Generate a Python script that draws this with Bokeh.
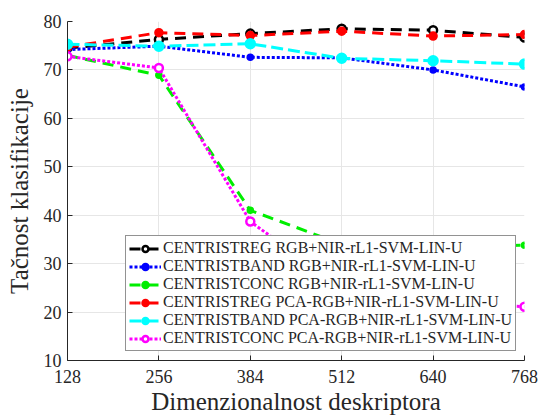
from bokeh.plotting import figure
from bokeh.models import Legend, LegendItem, FixedTicker
from bokeh.embed import file_html
from bokeh.resources import INLINE

x = [128, 256, 384, 512, 640, 768]
reg_rgb = [74.5, 76.3, 77.5, 78.5, 78.2, 76.7]
band_rgb = [74.2, 74.9, 72.6, 72.5, 70.0, 66.5]
conc_rgb = [73.0, 68.9, 41.0, 34.0, 33.6, 33.8]
reg_pca = [74.7, 77.7, 77.1, 78.0, 77.0, 77.3]
band_pca = [75.3, 74.9, 75.4, 72.4, 71.9, 71.2]
conc_pca = [72.8, 70.4, 38.7, 25.0, 22.0, 21.1]

labels = [
    "CENTRISTREG RGB+NIR-rL1-SVM-LIN-U",
    "CENTRISTBAND RGB+NIR-rL1-SVM-LIN-U",
    "CENTRISTCONC RGB+NIR-rL1-SVM-LIN-U",
    "CENTRISTREG PCA-RGB+NIR-rL1-SVM-LIN-U",
    "CENTRISTBAND PCA-RGB+NIR-rL1-SVM-LIN-U",
    "CENTRISTCONC PCA-RGB+NIR-rL1-SVM-LIN-U",
]
x_ticks = [128, 256, 384, 512, 640, 768]
y_ticks = [10, 20, 30, 40, 50, 60, 70, 80]

FONT = "Liberation Serif"

p = figure(width=538, height=417, output_backend="svg", toolbar_location=None,
           x_range=(128, 768), y_range=(10, 80),
           min_border_left=67, min_border_right=14, min_border_top=21, min_border_bottom=54)
p.outline_line_color = None
p.xaxis.ticker = FixedTicker(ticks=x_ticks)
p.yaxis.ticker = FixedTicker(ticks=y_ticks)
for ax in (p.xaxis[0], p.yaxis[0]):
    ax.major_tick_in = 5
    ax.major_tick_out = 0
    ax.minor_tick_in = 0
    ax.minor_tick_out = 0
    ax.axis_line_color = "#262626"
    ax.major_tick_line_color = "#262626"
    ax.major_label_text_font = FONT
    ax.major_label_text_font_size = "18px"
    ax.major_label_text_color = "#262626"
    ax.axis_label_text_font = FONT
    ax.axis_label_text_font_size = "25px"
    ax.axis_label_text_font_style = "normal"
    ax.axis_label_text_color = "#262626"
p.xaxis.axis_label = "Dimenzionalnost deskriptora"
p.yaxis.axis_label = "Tačnost klasifikacije"
p.xaxis.major_label_standoff = 9
p.xaxis.axis_label_standoff = 2
p.yaxis.major_label_standoff = 6
p.yaxis.axis_label_standoff = 8
p.grid.grid_line_color = "#e6e6e6"
p.grid.grid_line_width = 1

series = [
    (reg_rgb, "black", "dashed", "circle", 8, "white"),
    (band_rgb, "blue", "dotted", "circle", 5, "blue"),
    (conc_rgb, "#00ee00", "dashed", "circle", 5, "#00ee00"),
    (reg_pca, "red", "dashed", "circle", 7, "red"),
    (band_pca, "cyan", "dashdot", "circle", 9, "cyan"),
    (conc_pca, "magenta", "dotted", "circle", 8, "white"),
]
dash_map = {"dashed": "11 7", "dotted": "3 2", "dashdot": "12 5"}

items = []
for (ys, col, dash, marker, size, fill), lab in zip(series, labels):
    l = p.line(x, ys, line_color=col, line_width=3, line_dash=dash_map[dash])
    s = p.scatter(x, ys, marker=marker, size=size, line_color=col, fill_color=fill, line_width=2.5)
    items.append(LegendItem(label=lab, renderers=[l, s]))

legend = Legend(items=items, location=(58, 9), label_text_font=FONT,
                label_text_font_size="16px", label_text_color="#262626",
                border_line_color="#262626", border_line_width=1,
                background_fill_alpha=1, glyph_width=32, glyph_height=15,
                label_height=15, spacing=0, padding=3, margin=0,
                label_standoff=2)
p.add_layout(legend)

open("out.html", "w").write(file_html(p, INLINE))
